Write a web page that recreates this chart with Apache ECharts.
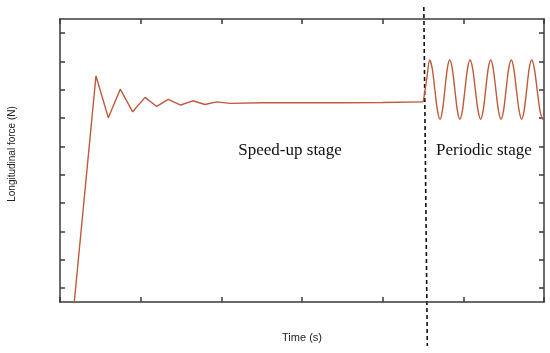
<!DOCTYPE html>
<html>
<head>
<meta charset="utf-8">
<script src="https://cdn.jsdelivr.net/npm/echarts@6/dist/echarts.min.js"></script>
<style>
html,body{margin:0;padding:0;background:#fff;}
#chart{width:550px;height:353px;}
</style>
</head>
<body>
<div id="chart"></div>
<script>
// Speed-up stage (damped zig-zag) : time, force (arbitrary units)
var speedX = [0.177, 0.446, 0.599, 0.747, 0.901, 1.054, 1.199, 1.342, 1.496, 1.645, 1.797, 1.942, 2.107, 2.5, 3.0, 3.5, 4.0, 4.503];
var speedY = [0, 7.99, 6.51, 7.52, 6.72, 7.23, 6.91, 7.16, 6.96, 7.11, 6.98, 7.07, 7.02, 7.04, 7.04, 7.04, 7.05, 7.07];
// Periodic stage (read peaks, troughs, crossings and shoulders)
var periodX = [4.503, 4.545, 4.583,
  4.615, 4.647, 4.679, 4.711,
  4.741, 4.771, 4.801, 4.831,
  4.863, 4.895, 4.926, 4.958,
  4.989, 5.020, 5.052, 5.083,
  5.116, 5.149, 5.182, 5.215,
  5.246, 5.277, 5.308, 5.339,
  5.371, 5.403, 5.435, 5.467,
  5.499, 5.530, 5.562, 5.594,
  5.626, 5.658, 5.691, 5.723,
  5.754, 5.785, 5.816, 5.847,
  5.881, 5.915, 5.950, 5.984,
  6.0];
var periodY = [7.07, 7.85, 8.55,
  8.24, 7.5, 6.77, 6.46,
  6.77, 7.5, 8.24, 8.55,
  8.24, 7.5, 6.77, 6.46,
  6.77, 7.5, 8.24, 8.55,
  8.24, 7.5, 6.77, 6.46,
  6.77, 7.5, 8.24, 8.55,
  8.24, 7.5, 6.77, 6.46,
  6.77, 7.5, 8.24, 8.55,
  8.24, 7.5, 6.77, 6.46,
  6.77, 7.5, 8.24, 8.55,
  8.24, 7.5, 6.77, 6.46,
  6.55];
var stageBoundary = 4.535;
var yTicks = [0.5, 1.5, 2.5, 3.5, 4.5, 5.5, 6.5, 7.5, 8.5, 9.5];
var xTitle = 'Time (s)';
var yTitle = 'Longitudinal force (N)';
var stageLabels = ['Speed-up stage', 'Periodic stage'];

function pairs(xs, ys){ return xs.map(function(x,i){ return [x, ys[i]]; }); }

var axisColor = '#3a3a3a';
var lineColor = '#bf5a3c';

var chart = echarts.init(document.getElementById('chart'), null, {renderer:'canvas'});
var grid = {left:60, top:19, right:6, bottom:51};
var xBase = {
  type:'value', min:0, max:6, interval:1,
  axisLine:{show:true, onZero:false, lineStyle:{color:axisColor, width:1.5}},
  axisTick:{show:true, inside:true, length:5, lineStyle:{color:axisColor, width:1.5}},
  axisLabel:{show:false}, splitLine:{show:false}
};
var yBase = {
  type:'value', min:0, max:10, interval:1,
  axisLine:{show:true, onZero:false, lineStyle:{color:axisColor, width:1.5}},
  axisTick:{show:true, inside:true, length:5, customValues:yTicks, lineStyle:{color:axisColor, width:1.5}},
  axisLabel:{show:false}, splitLine:{show:false}
};
chart.setOption({
  animation:false,
  backgroundColor:'#fff',
  grid:grid,
  xAxis:[Object.assign({position:'bottom'}, xBase), Object.assign({position:'top'}, xBase)],
  yAxis:[Object.assign({position:'left'}, yBase), Object.assign({position:'right'}, yBase)],
  series:[
    {type:'line', data:pairs(speedX, speedY), showSymbol:false, smooth:false,
     lineStyle:{color:lineColor, width:1.4}, clip:true},
    {type:'line', data:pairs(periodX, periodY), showSymbol:false, smooth:0.3,
     lineStyle:{color:lineColor, width:1.4}, clip:true}
  ]
});

var bx0 = chart.convertToPixel({xAxisIndex:0}, stageBoundary);
var cx = chart.convertToPixel({xAxisIndex:0}, 3);
chart.setOption({
  graphic:[
    {type:'line', shape:{x1:bx0-2, y1:7, x2:bx0+1.5, y2:346},
     style:{stroke:'#111', lineWidth:1.6, lineDash:[4,3]}},
    {type:'text', x:290, y:151, style:{text:stageLabels[0], font:'17px "Liberation Serif"', fill:'#111', align:'center', verticalAlign:'middle'}},
    {type:'text', x:484, y:151, style:{text:stageLabels[1], font:'17px "Liberation Serif"', fill:'#111', align:'center', verticalAlign:'middle'}},
    {type:'text', x:cx, y:338, style:{text:xTitle, font:'11px "Liberation Sans"', fill:'#222', align:'center', verticalAlign:'middle'}},
    {type:'text', x:12, y:154, rotation:Math.PI/2, style:{text:yTitle, font:'10px "Liberation Sans"', fill:'#222', align:'center', verticalAlign:'middle'}}
  ]
});
</script>
</body>
</html>
